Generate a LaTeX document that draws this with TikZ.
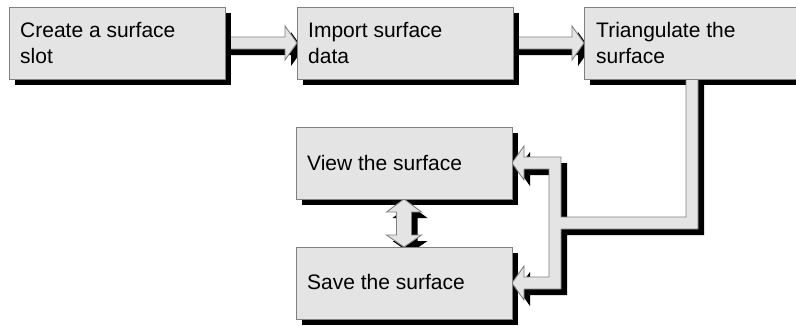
\documentclass[tikz,border=0pt]{standalone}
\usepackage{fontspec}
\setmainfont{Liberation Sans}
\usetikzlibrary{calc}
\definecolor{boxfill}{RGB}{228,228,228}
\definecolor{edge}{RGB}{128,128,128}
\tikzset{
  boxshape/.style={rectangle, minimum width=216pt, minimum height=72pt, inner sep=0pt, outer sep=0pt},
  boxdraw/.style={fill=boxfill, draw=edge, line width=0.9pt},
  lbl/.style={anchor=base west, inner sep=0pt, font=\fontsize{21}{26}\selectfont, text=black},
  blockfill/.style={fill=boxfill, draw=edge, line width=0.9pt, line join=miter},
  blockshadow/.style={fill=black},
  shadowshift/.style={transform canvas={shift={(6pt,-6pt)}}},
}
% right-pointing block arrow from #1 to tip #2
\newcommand{\rarrow}[3]{\path[#3] ($(#1)+(0,-6)$) -- ($(#2)+(-12,-6)$) -- ($(#2)+(-12,-17)$) -- (#2) -- ($(#2)+(-12,17)$) -- ($(#2)+(-12,6)$) -- ($(#1)+(0,6)$) -- cycle;}
% bracket connector from Triangulate to View and Save
\newcommand{\bracket}[1]{\path[#1] (vw.east) -- ($(vw.east)+(12,-17)$) -- ($(vw.east)+(12,-6)$) -- ($(vw.east)+(49,-6)$) -- ($(mid)+(49,-6)$) -- ($(jn)+(-6,-6)$) -- ($(b3.south)+(-6,0)$) -- ($(b3.south)+(6,0)$) -- ($(jn)+(6,6)$) -- ($(mid)+(49,6)$) -- ($(sv.east)+(49,6)$) -- ($(sv.east)+(12,6)$) -- ($(sv.east)+(12,17)$) -- (sv.east) -- ($(sv.east)+(12,-17)$) -- ($(sv.east)+(12,-6)$) -- ($(sv.east)+(37,-6)$) -- ($(vw.east)+(37,6)$) -- ($(vw.east)+(12,6)$) -- ($(vw.east)+(12,17)$) -- cycle;}
% double vertical block arrow between View and Save
\newcommand{\dblarrow}[1]{\path[#1] (vw.south) -- ($(vw.south)+(17.5,13)$) -- ($(vw.south)+(7.5,13)$) -- ($(sv.north)+(7.5,-12)$) -- ($(sv.north)+(17.5,-12)$) -- (sv.north) -- ($(sv.north)+(-17.5,-12)$) -- ($(sv.north)+(-7.5,-12)$) -- ($(vw.south)+(-7.5,13)$) -- ($(vw.south)+(-17.5,13)$) -- cycle;}
\newcommand{\boxrect}[2]{\path[#2] (#1.south west) rectangle (#1.north east);}
\begin{document}
\begin{tikzpicture}[x=1pt,y=-1pt]
\clip (0,0) rectangle (796,325);
\fill[white] (0,0) rectangle (796,325);
% node placement
\node[boxshape] (b1) at (117,43) {};
\node[boxshape] (b2) at (405,43) {};
\node[boxshape] (b3) at (692,43) {};
\node[boxshape] (vw) at (404,163) {};
\node[boxshape] (sv) at (404,283) {};
\coordinate (mid) at ($(vw.east)!0.5!(sv.east)$);
\coordinate (jn) at (mid -| b3.south);
% horizontal arrows (under the box shadows)
\begin{scope}[shadowshift]
  \rarrow{b1.east}{b2.west}{blockshadow}
  \rarrow{b2.east}{b3.west}{blockshadow}
\end{scope}
\rarrow{b1.east}{b2.west}{blockfill}
\rarrow{b2.east}{b3.west}{blockfill}
% box shadows
\begin{scope}[shadowshift]
  \boxrect{b1}{blockshadow}
  \boxrect{b2}{blockshadow}
  \boxrect{b3}{blockshadow}
  \boxrect{vw}{blockshadow}
  \boxrect{sv}{blockshadow}
  \bracket{blockshadow}
  \dblarrow{blockshadow}
\end{scope}
\bracket{blockfill}
\dblarrow{blockfill}
% boxes
\boxrect{b1}{boxdraw}
\boxrect{b2}{boxdraw}
\boxrect{b3}{boxdraw}
\boxrect{vw}{boxdraw}
\boxrect{sv}{boxdraw}
% labels
\node[lbl] (t1a) at ($(b1.north west)+(11,30)$) {Create a surface};
\node[lbl] (t1b) at ($(b1.north west)+(11,56)$) {slot};
\node[lbl] (t2a) at ($(b2.north west)+(11,30)$) {Import surface};
\node[lbl] (t2b) at ($(b2.north west)+(11,56)$) {data};
\node[lbl] (t3a) at ($(b3.north west)+(12,30)$) {Triangulate the};
\node[lbl] (t3b) at ($(b3.north west)+(12,56)$) {surface};
\node[lbl] (t4) at ($(vw.west)+(11,7)$) {View the surface};
\node[lbl] (t5) at ($(sv.west)+(11,6)$) {Save the surface};
\end{tikzpicture}
\end{document}
